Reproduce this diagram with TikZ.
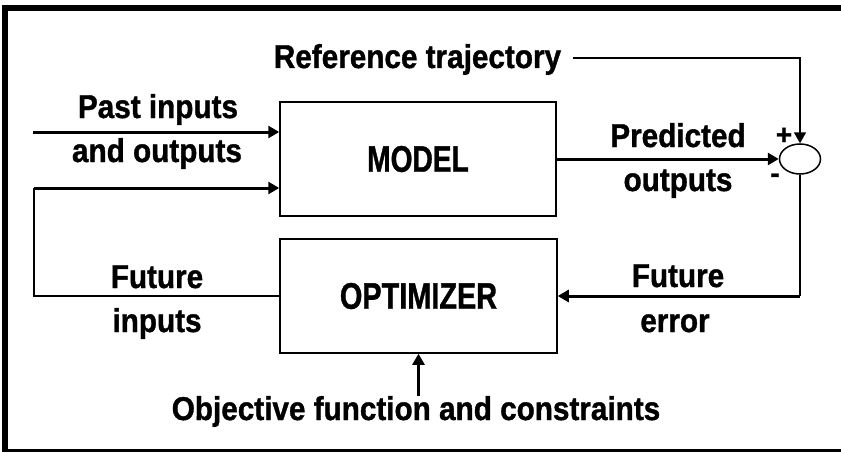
\documentclass[tikz,border=0pt]{standalone}
\usepackage{fontspec}
\usepackage{graphicx}
\setmainfont{Liberation Sans}[BoldFeatures={FakeBold=1.2}]
\usetikzlibrary{arrows.meta,shapes.geometric}
\begin{document}
\begin{tikzpicture}[x=1pt,y=-1pt,
  lbl/.style={font=\fontsize{33}{36}\selectfont\bfseries, inner sep=0pt,
    anchor=base, xscale=0.9},
  signlbl/.style={font=\fontsize{28}{28}\selectfont\bfseries, inner sep=0pt},
  blockbox/.style={draw, line width=1.5pt, inner sep=0pt,
    minimum width=276pt, minimum height=114pt,
    font=\fontsize{37}{40}\selectfont\bfseries},
  sigline/.style={line width=3pt},
  thinline/.style={line width=1.6pt},
  tip/.style={-{Triangle[length=11pt,width=12pt]}}]

\useasboundingbox (0,0) rectangle (841,452);

% outer frame
\draw[line width=6pt] (5,8.3) rectangle (870,452);

% blocks
\node[blockbox] (model) at (418,159) {\scalebox{0.76}[1]{MODEL}};
\node[blockbox, minimum width=277pt] (optimizer) at (418.5,296) {\scalebox{0.78}[1]{OPTIMIZER}};
\node[draw, ellipse, line width=1.5pt, minimum width=41pt, minimum height=30pt,
  inner sep=0pt] (sum) at (800,159) {};

% labels
\node[lbl] (reftext) at (417.5,68) {Reference trajectory};
\node[lbl] (past1) at (158,118) {Past inputs};
\node[lbl] (past2) at (157,162) {and outputs};
\node[lbl] (pred1) at (678,147) {Predicted};
\node[lbl] (pred2) at (678,191) {outputs};
\node[lbl] (futin1) at (157,288) {Future};
\node[lbl] (futin2) at (157,332) {inputs};
\node[lbl] (futerr1) at (678,287) {Future};
\node[lbl] (futerr2) at (675,332) {error};
\node[lbl] (objective) at (416,420) {Objective function and constraints};
\node[signlbl] (plus) at (784,136) {+};
\node[signlbl] (minus) at (775,178) {-};

% connector points
\coordinate (refstart) at (573,58);
\coordinate (refcorner) at (800,58);
\coordinate (pastin) at (33,132);
\coordinate (loopcorner) at (34,188);
\coordinate (errcorner) at (sum.south |- optimizer.east);

% reference trajectory into the summing junction
\draw[line width=1.8pt, tip] (refstart) -- (refcorner) -- (sum.north);

% past inputs and outputs into the model
\draw[sigline, tip] (pastin) -- (model.west |- pastin);

% future inputs fed back into the model
\draw[thinline] (optimizer.west) -| (loopcorner);
\draw[sigline, tip] (loopcorner) -- (loopcorner -| model.west);

% predicted outputs into the summing junction
\draw[sigline, tip] (model.east) -- (sum.west);

% future error into the optimizer
\draw[thinline] (sum.south) -- (errcorner);
\draw[sigline, tip] (errcorner) -- (optimizer.east);

% objective function and constraints into the optimizer
\draw[line width=2.5pt, tip] (optimizer.south |- objective.north) -- (optimizer.south);
\end{tikzpicture}
\end{document}
